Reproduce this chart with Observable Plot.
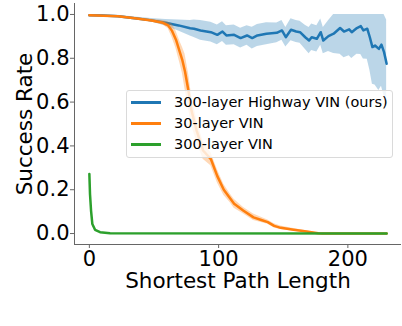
<!DOCTYPE html>
<html><head><meta charset="utf-8">
<script src="https://cdn.jsdelivr.net/npm/d3@7"></script>
<script src="https://cdn.jsdelivr.net/npm/@observablehq/plot@0.6"></script>
<style>
body{margin:0;background:#fff;}
#wrap{position:relative;width:402px;height:326px;font-family:"DejaVu Sans",sans-serif;}
#legend{position:absolute;left:126px;top:90px;width:267px;height:68px;box-sizing:border-box;border:1px solid #dadada;border-radius:3px;background:rgba(255,255,255,0.8);}
.row{position:absolute;left:0;height:20px;width:100%;}
.sw{position:absolute;left:4px;width:30px;height:2.5px;top:9px;}
.lb{position:absolute;left:47px;top:0;font-size:14.5px;line-height:20px;color:#000;white-space:nowrap;}
</style>
</head><body>
<div id="wrap"></div>
<script>
const seriesNames = ["300-layer Highway VIN (ours)", "30-layer VIN", "300-layer VIN"];
const seriesColors = ["#1f77b4", "#ff7f0e", "#2ca02c"];
const xTicks = [0, 100, 200];
const yTicks = [0, 0.2, 0.4, 0.6, 0.8, 1.0];
const xDomain = [-11.5, 241.5];
const yDomain = [-0.05, 1.05];

const blueX = [0,10,22,35,48,59,69,78,81,86,94,99,103,106,112,117,122,126,130,137,145,149,152,156,160,163,167,170,172,176,179,181,185,189,194,197,201,203,207,210,212,215,217,219,221,224,226,228,230];
const blueY = [0.996,0.995,0.992,0.983,0.973,0.962,0.950,0.937,0.935,0.927,0.919,0.907,0.922,0.904,0.907,0.892,0.904,0.892,0.904,0.912,0.916,0.927,0.896,0.930,0.922,0.919,0.896,0.881,0.896,0.889,0.919,0.881,0.901,0.912,0.938,0.922,0.932,0.919,0.938,0.947,0.927,0.935,0.896,0.851,0.858,0.843,0.862,0.828,0.775];
const blueHalf = [0.003,0.003,0.004,0.005,0.008,0.015,0.025,0.035,0.04,0.045,0.045,0.045,0.045,0.045,0.045,0.045,0.045,0.05,0.05,0.05,0.045,0.045,0.045,0.05,0.05,0.05,0.055,0.06,0.06,0.06,0.06,0.06,0.07,0.09,0.12,0.12,0.12,0.12,0.12,0.13,0.13,0.14,0.15,0.17,0.18,0.19,0.19,0.2,0.2];

const orangeX = [0,22,35,48,57,61,64,67,70,72,74,77,79,83,88,94,99,104,109,112,119,127,133,138,143,148,158,168,177,180,230];
const orangeY = [0.996,0.992,0.983,0.972,0.962,0.950,0.925,0.885,0.828,0.79,0.74,0.64,0.562,0.47,0.379,0.34,0.262,0.20,0.16,0.136,0.105,0.074,0.062,0.052,0.035,0.026,0.017,0.009,0.001,0,0];
const orangeHalf = [0.003,0.003,0.004,0.006,0.01,0.015,0.03,0.04,0.05,0.06,0.08,0.08,0.07,0.05,0.04,0.03,0.03,0.025,0.02,0.02,0.015,0.015,0.012,0.01,0.01,0.008,0.006,0.004,0.002,0,0];

const greenX = [0,0.5,1.3,2.3,4.4,8.3,16,230];
const greenY = [0.272,0.18,0.105,0.044,0.017,0.006,0.001,0];
const greenHalf = [0.004,0.004,0.004,0.003,0.002,0.001,0,0];

function build(X, Y, H) {
  return X.map((x, i) => ({x, y: Y[i], lo: Y[i] - H[i], hi: Math.min(1, Y[i] + H[i])}));
}
const blue = build(blueX, blueY, blueHalf);
const orange = build(orangeX, orangeY, orangeHalf);
const green = build(greenX, greenY, greenHalf);

const font = "DejaVu Sans";
const chart = Plot.plot({
  width: 402, height: 326,
  marginLeft: 74, marginRight: 1, marginTop: 3, marginBottom: 82,
  x: {domain: xDomain},
  y: {domain: yDomain},
  style: {fontFamily: font, fontSize: "21px", background: "#fff", color: "#000", overflow: "visible"},
  marks: [
    Plot.areaY(blue, {x: "x", y1: "lo", y2: "hi", fill: seriesColors[0], fillOpacity: 0.3}),
    Plot.line(blue, {x: "x", y: "y", stroke: seriesColors[0], strokeWidth: 2.5}),
    Plot.areaY(orange, {x: "x", y1: "lo", y2: "hi", fill: seriesColors[1], fillOpacity: 0.3}),
    Plot.line(orange, {x: "x", y: "y", stroke: seriesColors[1], strokeWidth: 2.5}),
    Plot.areaY(green, {x: "x", y1: "lo", y2: "hi", fill: seriesColors[2], fillOpacity: 0.3}),
    Plot.line(green, {x: "x", y: "y", stroke: seriesColors[2], strokeWidth: 2.5}),
    Plot.ruleX([xDomain[0]], {stroke: "#666", strokeWidth: 1}),
    Plot.ruleY([yDomain[0]], {stroke: "#666", strokeWidth: 1}),
    Plot.axisX({ticks: xTicks, tickSize: 4, tickPadding: 3, fontSize: 21, label: null, stroke: "#666", fill: "#000"}),
    Plot.axisY({ticks: yTicks, tickFormat: d3.format(".1f"), tickSize: 4, tickPadding: 1, fontSize: 21, label: null, stroke: "#666", fill: "#000"}),
    Plot.text(["Shortest Path Length"], {frameAnchor: "bottom", textAnchor: "middle", lineAnchor: "bottom", dy: 43, fontSize: 21.5, fill: "#000"}),
    Plot.text(["Success Rate"], {frameAnchor: "left", textAnchor: "middle", lineAnchor: "bottom", rotate: -90, dx: -43, fontSize: 21.5, fill: "#000"})
  ]
});
const wrap = document.getElementById("wrap");
wrap.appendChild(chart);
const leg = document.createElement("div");
leg.id = "legend";
seriesNames.forEach((n, i) => {
  const r = document.createElement("div");
  r.className = "row";
  r.style.top = (1 + i * 21) + "px";
  const s = document.createElement("div");
  s.className = "sw"; s.style.background = seriesColors[i];
  const t = document.createElement("div");
  t.className = "lb"; t.textContent = n;
  r.appendChild(s); r.appendChild(t);
  leg.appendChild(r);
});
wrap.appendChild(leg);
</script>
</body></html>
